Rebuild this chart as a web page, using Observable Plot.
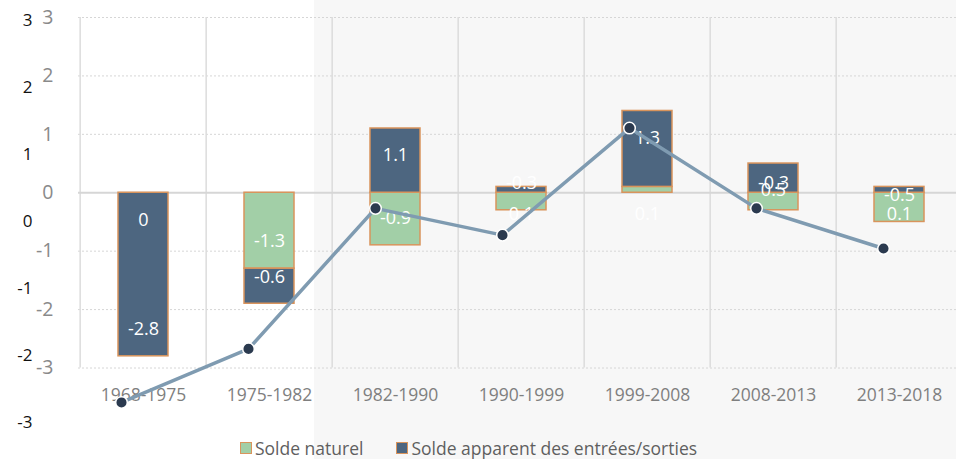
<!DOCTYPE html>
<html>
<head>
<meta charset="utf-8">
<script src="https://cdn.jsdelivr.net/npm/d3@7"></script>
<script src="https://cdn.jsdelivr.net/npm/@observablehq/plot@0.6"></script>
<style>
  html, body { margin: 0; padding: 0; background: #fff; }
  #wrap { position: relative; width: 956px; height: 459px; overflow: hidden; background: #fff; font-family: "Open Sans", sans-serif; }
  #bg { position: absolute; left: 314px; top: 0; width: 642px; height: 459px; background: #f7f7f7; }
  .layer { position: absolute; left: 0; top: 0; }
  .layer svg { max-width: none !important; background: transparent !important; }
  #legend { position: absolute; top: 438px; left: 240px; height: 20px; display: flex; align-items: center; font-size: 17.5px; line-height: 20px; color: #5f5f5f; white-space: nowrap; }
  .item { display: flex; align-items: center; }
  .sw { width: 10px; height: 10px; border: 1.5px solid #d9945c; margin-right: 3px; }
</style>
</head>
<body>
<div id="wrap">
  <div id="bg"></div>
  <div id="bars" class="layer"></div>
  <div id="line" class="layer"></div>
  <div id="legend"></div>
</div>
<script>
const periods = ["1968-1975", "1975-1982", "1982-1990", "1990-1999", "1999-2008", "2008-2013", "2013-2018"];
const soldeNaturel = [0, -1.3, -0.9, -0.3, 0.1, -0.3, -0.5];
const soldeApparent = [-2.8, -0.6, 1.1, 0.1, 1.3, 0.5, 0.1];
const variationTotale = [-2.7, -1.9, 0.2, -0.2, 1.4, 0.2, -0.4];
const yTicks = [-3, -2, -1, 0, 1, 2, 3];
const seriesNames = ["Solde naturel", "Solde apparent des entrées/sorties"];
const seriesColors = ["#a2cfa7", "#4d6680"];

const rows = [];
periods.forEach((p, i) => {
  rows.push({period: p, series: seriesNames[0], value: soldeNaturel[i]});
  rows.push({period: p, series: seriesNames[1], value: soldeApparent[i]});
});
const totals = periods.map((p, i) => ({period: p, value: variationTotale[i]}));

const W = 956, H = 459;
const xRange = [78, 965];
const step = (xRange[1] - xRange[0]) / periods.length;
const barStroke = "#d9945c";

const chartA = Plot.plot({
  width: W, height: H,
  marginTop: 17, marginBottom: 91.5, marginLeft: 78, marginRight: 0,
  style: {background: "transparent", fontFamily: "Open Sans", overflow: "visible"},
  x: {domain: periods, range: xRange, paddingInner: 0.6, paddingOuter: 0.3, align: 0.5, axis: null},
  y: {domain: [-3, 3], axis: null},
  color: {domain: seriesNames, range: seriesColors},
  marks: [
    Plot.ruleY(yTicks.filter(t => t !== 0), {y: d => d, stroke: "#d6d6d6", strokeWidth: 1, strokeDasharray: "2,2"}),
    Plot.ruleX(periods, {x: d => d, dx: -step / 2, stroke: "#dcdcdc", strokeWidth: 1.5}),
    Plot.ruleY([0], {y: d => d, stroke: "#d6d6d6", strokeWidth: 2}),
    Plot.barY(rows, {x: "period", y: "value", z: "series", fill: "series", stroke: barStroke, strokeWidth: 1.5}),
    Plot.text(rows, Plot.stackY2({x: "period", y: "value", z: "series",
      text: d => d.value >= 0 ? String(d.value) : "", dy: 27, fill: "white", fontSize: 18, lineAnchor: "middle"})),
    Plot.text(rows, Plot.stackY2({x: "period", y: "value", z: "series",
      text: d => d.value < 0 ? String(d.value) : "", dy: -27, fill: "white", fontSize: 18, lineAnchor: "middle"})),
    Plot.text(yTicks, {y: d => d, text: d => String(d), frameAnchor: "left", dx: -25, textAnchor: "end", lineAnchor: "middle", fontSize: 19.5, fill: "#8a8a8a"}),
    Plot.text(periods, {x: d => d, text: d => d, frameAnchor: "bottom", dy: 27, lineAnchor: "middle", fontSize: 17.5, fill: "#7f7f7f"})
  ]
});
document.getElementById("bars").appendChild(chartA);

const chartB = Plot.plot({
  width: W, height: H,
  marginTop: 0, marginBottom: 0, marginLeft: 32, marginRight: 0,
  style: {background: "transparent", fontFamily: "Open Sans", overflow: "visible"},
  x: {type: "point", domain: periods, range: [120, 883], padding: 0, axis: null},
  y: {domain: [-3, 3], range: [422, 20.5], axis: null},
  marks: [
    Plot.line(totals, {x: "period", y: "value", stroke: "#7f9bb1", strokeWidth: 3.5}),
    Plot.dot(totals, {x: "period", y: "value", r: 5.8, fill: "#2b3a4f", stroke: "white", strokeWidth: 1.5}),
    Plot.text(yTicks, {y: d => d, text: d => String(d), frameAnchor: "left", textAnchor: "end", lineAnchor: "middle", fontSize: 17, fill: "#111"})
  ]
});
document.getElementById("line").appendChild(chartB);

const legend = document.getElementById("legend");
seriesNames.forEach((name, i) => {
  const item = document.createElement("div");
  item.className = "item";
  item.style.marginRight = i === 0 ? "33px" : "0";
  const sw = document.createElement("span");
  sw.className = "sw";
  sw.style.background = seriesColors[i];
  const label = document.createElement("span");
  label.textContent = name;
  item.appendChild(sw);
  item.appendChild(label);
  legend.appendChild(item);
});
</script>
</body>
</html>
